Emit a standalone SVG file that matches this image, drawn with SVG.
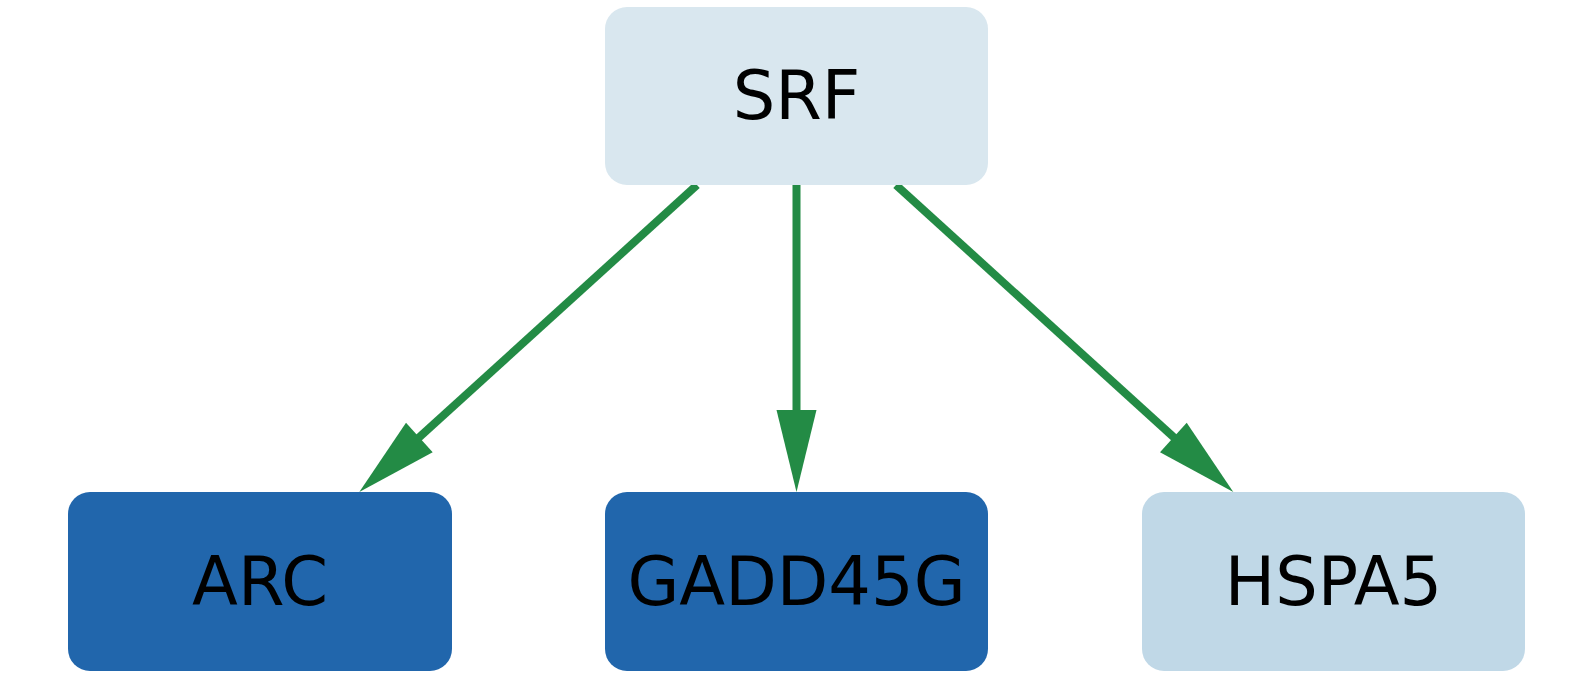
<svg xmlns="http://www.w3.org/2000/svg" width="1593" height="677" viewBox="0 0 1593 677">
<style>
.lbl{font-family:"DejaVu Sans",sans-serif;font-size:67px;fill:#000;text-anchor:middle}
.edge{stroke:#238b45;stroke-width:8;fill:none}
.head{fill:#238b45}
</style>
<rect width="1593" height="677" fill="#fff"/>
<g id="connectors">
<line class="edge" x1="697" y1="185" x2="414" y2="442"/>
<polygon class="head" points="359.3,492 406,422.7 432.7,452.3"/>
<line class="edge" x1="796.5" y1="185" x2="796.5" y2="412"/>
<polygon class="head" points="776.5,410 816.5,410 796.5,492"/>
<line class="edge" x1="896" y1="185" x2="1179" y2="442"/>
<polygon class="head" points="1233.3,492 1186.7,422.7 1160,452.3"/>
</g>
<g id="SRF">
<rect x="605" y="7" width="383" height="178" rx="22" fill="#d9e7ef"/>
<text class="lbl" x="796.5" y="119">SRF</text>
</g>
<g id="ARC">
<rect x="68" y="492" width="384" height="179" rx="22" fill="#2166ac"/>
<text class="lbl" x="260" y="605">ARC</text>
</g>
<g id="GADD45G">
<rect x="605" y="492" width="383" height="179" rx="22" fill="#2166ac"/>
<text class="lbl" x="796.5" y="605">GADD45G</text>
</g>
<g id="HSPA5">
<rect x="1142" y="492" width="383" height="179" rx="22" fill="#c0d8e7"/>
<text class="lbl" x="1333.5" y="605">HSPA5</text>
</g>
</svg>
